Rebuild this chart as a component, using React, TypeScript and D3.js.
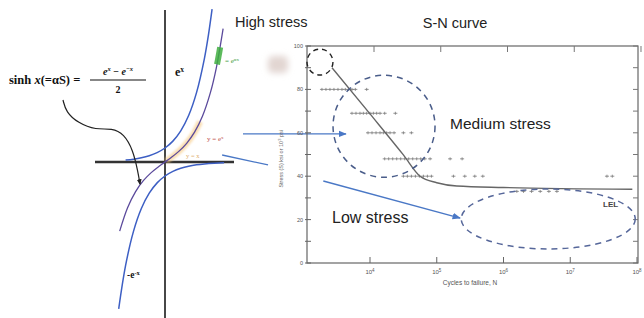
import React from "react";
import * as d3 from "d3";

// ---------- Left panel (hyperbolic functions) ----------
const expX = [-2.0, -1.6, -1.2, -0.8, -0.4, 0, 0.4, 0.8, 1.2, 1.6, 2.0, 2.2, 2.39];
const sinhX = [-2.3, -1.9, -1.5, -1.1, -0.7, -0.3, 0, 0.3, 0.7, 1.1, 1.5, 1.9, 2.3, 2.6, 2.95];
const negExpX = [-2.35, -2.0, -1.6, -1.2, -0.8, -0.4, 0, 0.4, 0.8, 1.2, 1.6, 2.0, 2.5, 3.0];
const yEqXRange = [0.05, 0.4, 0.8, 1.2, 1.5, 1.78];
const greenRange = [2.64, 2.7, 2.76, 2.8];
const sinhArrow: [number, number][] = [
  [63, 100], [66, 112], [78, 123], [96, 130], [112, 128], [124, 134], [133, 150], [138, 172], [140, 184],
];

// ---------- Right panel (S-N curve) ----------
const yTickLabels = [0, 20, 40, 60, 80, 100];
const yMinorTicks = [0, 10, 20, 30, 40, 50, 60, 70, 80, 90, 100];
const xTickExps = [4, 5, 6, 7, 8];
const snLogN = [3.43, 4.0, 4.5, 4.75, 5.0, 5.3, 6.0, 7.93];
const snStress = [90, 68.7, 49.8, 40, 37, 35.5, 34.8, 34];

const rowS80 = [3.28, 3.34, 3.4, 3.46, 3.52, 3.58, 3.63, 3.68, 3.73, 3.78, 3.95];
const rowS69 = [3.73, 3.79, 3.85, 3.9, 3.95, 4.0, 4.05, 4.1, 4.15, 4.22, 4.38];
const rowS60 = [3.97, 4.03, 4.09, 4.15, 4.2, 4.25, 4.3, 4.36, 4.5, 4.62];
const rowS48 = [4.22, 4.28, 4.34, 4.4, 4.46, 4.52, 4.58, 4.64, 4.7, 4.76, 4.82, 4.9, 5.2, 5.38];
const rowS40 = [4.5, 4.56, 4.62, 4.68, 4.74, 4.8, 4.86, 4.92, 5.25, 5.42, 5.57, 5.69, 7.55, 7.63];
const rowS33 = [6.2, 6.3, 6.42, 6.55, 6.68, 6.8];

export default function App() {
  // left scales
  const xL = d3.scaleLinear().domain([-3, 3]).range([165 - 59.1, 165 + 59.1]);
  const yL = d3.scaleLinear().domain([-11, 11]).range([316, 8]);
  const lineL = d3
    .line<[number, number]>()
    .x((d) => xL(d[0]))
    .y((d) => yL(d[1]))
    .curve(d3.curveCatmullRom);

  const expPath = lineL(expX.map((x) => [x, Math.exp(x)]))!;
  const sinhPath = lineL(sinhX.map((x) => [x, Math.sinh(x)]))!;
  const negExpPath = lineL(negExpX.map((x) => [x, -Math.exp(-x)]))!;
  const yellowPath = lineL(yEqXRange.map((x) => [x, Math.sinh(x)]))!;
  const greenPath = lineL(greenRange.map((x) => [x, Math.sinh(x)]))!;
  const arrowPath = d3.line().curve(d3.curveBasis)(sinhArrow)!;

  // right scales
  const xS = d3.scaleLog().domain([Math.pow(10, 3.056), Math.pow(10, 8.015)]).range([307, 638]);
  const yS = d3.scaleLinear().domain([0, 100]).range([263, 46]);
  const px = (lg: number) => xS(Math.pow(10, lg));
  const snLine = d3
    .line<number>()
    .x((_, i) => px(snLogN[i]))
    .y((_, i) => yS(snStress[i]))
    .curve(d3.curveMonotoneX);

  const rows: [number, number[]][] = [
    [80, rowS80], [69, rowS69], [60, rowS60], [48, rowS48], [40, rowS40], [33, rowS33],
  ];

  const [x0, x1] = xS.range();
  const [yb, yt] = yS.range();

  const blue = "#3d5fc4";
  const arrowBlue = "#4a78c6";
  const sans = "Liberation Sans, Arial, sans-serif";
  const serif = "Liberation Serif, Times New Roman, serif";

  return (
    <svg
      width={644}
      height={318}
      style={{ position: "absolute", left: 0, top: 0, background: "#fff" }}
      viewBox="0 0 644 318"
    >
      <defs>
        <marker id="arrB" viewBox="0 0 10 10" refX="9" refY="5" markerWidth="6" markerHeight="6" orient="auto">
          <path d="M0,1 L10,5 L0,9 z" fill={arrowBlue} />
        </marker>
        <marker id="arrK" viewBox="0 0 10 10" refX="8" refY="5" markerWidth="5" markerHeight="5" orient="auto">
          <path d="M0,1 L10,5 L0,9 z" fill="#222" />
        </marker>
        <filter id="blur" x="-50%" y="-50%" width="200%" height="200%">
          <feGaussianBlur stdDeviation="3" />
        </filter>
        <filter id="blur1" x="-50%" y="-50%" width="200%" height="200%">
          <feGaussianBlur stdDeviation="1.2" />
        </filter>
      </defs>

      {/* ===== Left panel ===== */}
      <line x1={165} y1={10} x2={165} y2={318} stroke="#333" strokeWidth={1.8} />
      <line x1={95} y1={yL(0)} x2={234} y2={yL(0)} stroke="#333" strokeWidth={2.6} />

      <path d={yellowPath} fill="none" stroke="#f7c980" strokeWidth={6} opacity={0.6} filter="url(#blur1)" />
      <path d={expPath} fill="none" stroke={blue} strokeWidth={1.5} />
      <path d={sinhPath} fill="none" stroke="#5b4a9c" strokeWidth={1.3} />
      <path d={negExpPath} fill="none" stroke={blue} strokeWidth={1.5} />
      <path d={greenPath} fill="none" stroke="#3fae3f" strokeWidth={6} opacity={0.85} />

      <path d={arrowPath} fill="none" stroke="#222" strokeWidth={1.2} markerEnd="url(#arrK)" />

      {/* formula */}
      <text x={9} y={84} fontFamily={serif} fontSize={12.5} fontWeight="bold" fill="#111">
        sinh<tspan fontStyle="italic"> x</tspan>(=αS) =
      </text>
      <line x1={90} y1={80} x2={146} y2={80} stroke="#111" strokeWidth={1.1} />
      <text x={118} y={75} textAnchor="middle" fontFamily={serif} fontSize={10} fontWeight="bold" fill="#111">
        <tspan fontStyle="italic">e</tspan>
        <tspan dy={-4} fontSize={6.5} fontStyle="italic">x</tspan>
        <tspan dy={4}> − </tspan>
        <tspan fontStyle="italic">e</tspan>
        <tspan dy={-4} fontSize={6.5} fontStyle="italic">−x</tspan>
      </text>
      <text x={118} y={93} textAnchor="middle" fontFamily={serif} fontSize={10} fontWeight="bold" fill="#111">
        2
      </text>

      <text x={175} y={76} fontFamily={serif} fontSize={12} fontWeight="bold" fill="#111">
        e<tspan dy={-4.5} fontSize={7.5}>x</tspan>
      </text>
      <text x={127} y={278} fontFamily={serif} fontSize={9.5} fontWeight="bold" fill="#111">
        -e<tspan dy={-3.5} fontSize={6.5}>-x</tspan>
      </text>

      <text x={225} y={63} fontFamily={serif} fontSize={7} fill="#3a9a3a">
        = e<tspan dy={-2.5} fontSize={5}>αx</tspan>
      </text>
      <text x={207} y={141} fontFamily={serif} fontSize={7} fill="#c0504d">
        y = e<tspan dy={-2.5} fontSize={5}>x</tspan>
      </text>
      <text x={186} y={158} fontFamily={serif} fontSize={6.5} fill="#e0b070">
        y = x
      </text>

      <rect x={268} y={56} width={20} height={17} rx={5} fill="#e2d6d2" filter="url(#blur)" />

      <text x={235} y={27} fontFamily={sans} fontSize={14.5} fill="#222">
        High stress
      </text>

      {/* connectors */}
      <line
        x1={243}
        y1={yS(59.5)}
        x2={px(3.64)}
        y2={yS(59.5)}
        stroke={arrowBlue}
        strokeWidth={1.3}
        markerEnd="url(#arrB)"
      />
      <line x1={xL(2.9)} y1={yL(0.5)} x2={xL(5.23)} y2={yL(-0.21)} stroke={arrowBlue} strokeWidth={1.3} />

      {/* ===== Right panel ===== */}
      <text x={455} y={28} textAnchor="middle" fontFamily={sans} fontSize={14.5} fill="#222">
        S-N curve
      </text>

      <rect x={x0} y={yt} width={x1 - x0} height={yb - yt} fill="none" stroke="#666" strokeWidth={1.2} />

      {yMinorTicks.map((t) => (
        <g key={"yt" + t}>
          <line x1={x0 - 2} x2={x0 + 4} y1={yS(t)} y2={yS(t)} stroke="#666" strokeWidth={1} />
          <line x1={x1 - 5} x2={x1} y1={yS(t)} y2={yS(t)} stroke="#777" strokeWidth={1} />
        </g>
      ))}
      {yTickLabels.map((t) => (
        <text
          key={"yl" + t}
          x={x0 - 4}
          y={yS(t) + 2}
          textAnchor="end"
          fontFamily={sans}
          fontSize={5.5}
          fill="#555"
        >
          {t}
        </text>
      ))}
      {xTickExps.map((e) => (
        <g key={"xt" + e}>
          <line x1={px(e)} x2={px(e)} y1={yb} y2={yb - 6} stroke="#666" strokeWidth={1} />
          <line x1={px(e) + 4} x2={px(e) + 4} y1={yt} y2={yt + 6} stroke="#777" strokeWidth={1} />
          <text x={px(e)} y={274} textAnchor="middle" fontFamily={sans} fontSize={6} fill="#555">
            10<tspan dy={-2.5} fontSize={4.5}>{e}</tspan>
          </text>
        </g>
      ))}
      <text x={470} y={285} textAnchor="middle" fontFamily={sans} fontSize={6.5} fill="#555">
        Cycles to failure, N
      </text>
      <text
        transform={`translate(283,${yS(48)}) rotate(-90)`}
        textAnchor="middle"
        fontFamily={sans}
        fontSize={5.5}
        fill="#666"
      >
        Stress (S) ksi or 10<tspan dy={-2} fontSize={4}>3</tspan>
        <tspan dy={2}> psi</tspan>
      </text>

      {/* data points */}
      {rows.map(([s, ns]) =>
        ns.map((n, i) => (
          <g key={`p${s}-${i}`} stroke="#777" strokeWidth={0.8}>
            <line x1={px(n) - 2} x2={px(n) + 2} y1={yS(s)} y2={yS(s)} />
            <line x1={px(n)} x2={px(n)} y1={yS(s) - 1.5} y2={yS(s) + 1.5} />
          </g>
        ))
      )}

      {/* S-N curve */}
      <path d={snLine(snLogN)!} fill="none" stroke="#666" strokeWidth={1.4} />

      {/* annotations */}
      <circle cx={px(3.25)} cy={yS(92.6)} r={13} fill="none" stroke="#222" strokeWidth={1.4} strokeDasharray="5,4" />
      <circle cx={px(4.21)} cy={yS(63)} r={51} fill="none" stroke="#4a5d8a" strokeWidth={1.5} strokeDasharray="6,5" />
      <ellipse
        cx={px(6.67)}
        cy={yS(20.3)}
        rx={87}
        ry={30}
        fill="none"
        stroke="#56679a"
        strokeWidth={1.5}
        strokeDasharray="6,5"
      />

      <line
        x1={px(3.3)}
        y1={yS(37.8)}
        x2={px(5.35)}
        y2={yS(20.7)}
        stroke={arrowBlue}
        strokeWidth={1.4}
        markerEnd="url(#arrB)"
      />

      <text x={450} y={129} fontFamily={sans} fontSize={15.5} fill="#222">
        Medium stress
      </text>
      <text x={332} y={223} fontFamily={sans} fontSize={16} fill="#222">
        Low stress
      </text>
      <text x={603} y={207} fontFamily={sans} fontSize={8} fontWeight="bold" fill="#444">
        LEL
      </text>
    </svg>
  );
}
